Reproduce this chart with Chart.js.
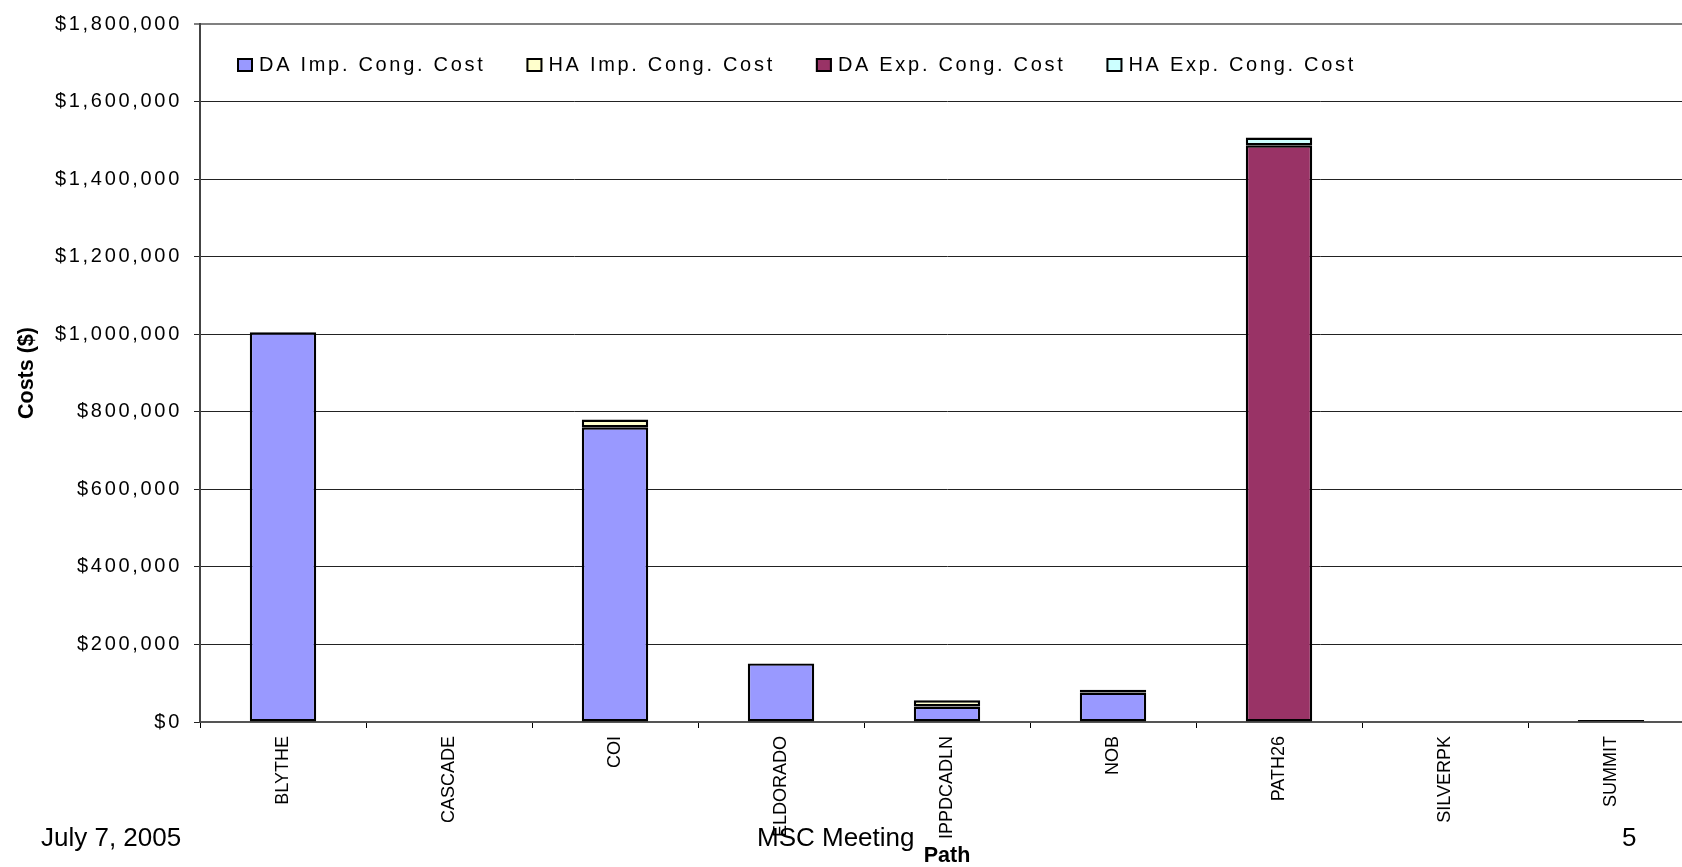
<!DOCTYPE html>
<html>
<head>
<meta charset="utf-8">
<script src="https://cdn.jsdelivr.net/npm/chart.js@4"></script>
<style>
  html, body { margin: 0; padding: 0; background: #fff; overflow: hidden; width: 1682px; height: 867px; }
  #wrap { position: relative; width: 1682px; height: 867px; overflow: hidden; }
  canvas { position: absolute; left: 0; top: 0; }
  .foot { position: absolute; top: 822px; font-family: "Liberation Sans", Arial, sans-serif; font-size: 26px; color: #000; white-space: nowrap; }
</style>
</head>
<body>
<div id="wrap">
  <canvas id="chart" width="1694" height="867"></canvas>
  <div class="foot" style="left:41px">July 7, 2005</div>
  <div class="foot" style="left:757px">MSC Meeting</div>
  <div class="foot" style="left:1622px">5</div>
</div>
<script>
// data
const paths = ['BLYTHE', 'CASCADE', 'COI', 'ELDORADO', 'IPPDCADLN', 'NOB', 'PATH26', 'SILVERPK', 'SUMMIT'];
const daImpCost = [1005000, null, 760000, 151000, 40000, 76000, null, null, null];
const haImpCost = [null, null, 20000, null, 16000, 7000, null, null, null];
const daExpCost = [null, null, null, null, null, null, 1487000, null, 5000];
const haExpCost = [null, null, null, null, null, null, 20000, null, null];
const costTicks = [0, 200000, 400000, 600000, 800000, 1000000, 1200000, 1400000, 1600000, 1800000];

const SPACING = '2.7px';

// only the 20px text (value ticks + legend) gets the wide excel letter spacing
const spacingPlugin = {
  id: 'spacing',
  beforeInit(chart) {
    const c = chart.ctx;
    ['fillText', 'measureText'].forEach(name => {
      const orig = c[name];
      c[name] = function (...args) {
        this.letterSpacing = /\b20px\b/.test(this.font) ? SPACING : '0px';
        return orig.apply(this, args);
      };
    });
  }
};

// legend sits inside the plot, between the two top gridlines
const insideLegend = {
  id: 'insideLegend',
  afterDraw(chart) {
    const ctx = chart.ctx;
    ctx.save();
    ctx.font = '20px "Liberation Sans", Arial, sans-serif';
    ctx.textBaseline = 'middle';
    let x = 237;
    const y = 65;
    chart.data.datasets.forEach(ds => {
      ctx.fillStyle = ds.backgroundColor;
      ctx.fillRect(x, y - 7, 16, 14);
      ctx.lineWidth = 2;
      ctx.strokeStyle = '#000';
      ctx.strokeRect(x + 1, y - 6, 14, 12);
      ctx.fillStyle = '#000';
      ctx.fillText(ds.label, x + 22, y);
      x += 22 + ctx.measureText(ds.label).width + 41;
    });
    ctx.restore();
  }
};

Chart.defaults.font.family = '"Liberation Sans", Arial, sans-serif';
Chart.defaults.color = '#000';

const ctx = document.getElementById('chart').getContext('2d');
new Chart(ctx, {
  type: 'bar',
  data: {
    labels: paths,
    datasets: [
      { label: 'DA Imp. Cong. Cost', data: daImpCost, backgroundColor: '#9999FF' },
      { label: 'HA Imp. Cong. Cost', data: haImpCost, backgroundColor: '#FFFFCC' },
      { label: 'DA Exp. Cong. Cost', data: daExpCost, backgroundColor: '#993366' },
      { label: 'HA Exp. Cong. Cost', data: haExpCost, backgroundColor: '#CCFFFF' }
    ]
  },
  options: {
    responsive: false,
    animation: false,
    layout: { padding: { top: 19, right: 0, bottom: 0, left: 0 } },
    datasets: {
      bar: {
        borderColor: '#000',
        borderWidth: 2.4,
        borderSkipped: false,
        categoryPercentage: 1,
        barPercentage: 0.4
      }
    },
    plugins: {
      legend: { display: false },
      tooltip: { enabled: false }
    },
    scales: {
      x: {
        stacked: true,
        afterFit(scale) { scale.height = 145; },
        grid: { drawOnChartArea: false, drawTicks: true, tickLength: 6, color: '#000' },
        border: { color: '#555', width: 2 },
        ticks: { autoSkip: false, minRotation: 90, maxRotation: 90, padding: 8, font: { size: 18 } },
        title: { display: true, text: 'Path', font: { size: 21.5, weight: 'bold', lineHeight: 1 }, padding: { top: 0, bottom: 0 } }
      },
      y: {
        stacked: true,
        min: 0,
        max: 1800000,
        afterFit(scale) { scale.width = 200; },
        afterBuildTicks(scale) { scale.ticks = costTicks.map(v => ({ value: v })); },
        grid: {
          color: c => c.tick && c.tick.value === 1800000 ? '#808080' : '#222',
          lineWidth: c => c.tick && c.tick.value === 1800000 ? 2 : 1,
          tickLength: 6
        },
        border: { color: '#444', width: 2 },
        ticks: {
          padding: 12,
          font: { size: 20 },
          callback: v => '$' + Number(v).toLocaleString('en-US')
        },
        title: { display: true, text: 'Costs ($)', font: { size: 21.5, weight: 'bold', lineHeight: 1 }, padding: { top: 16, bottom: 0 } }
      }
    }
  },
  plugins: [spacingPlugin, insideLegend]
});
</script>
</body>
</html>
